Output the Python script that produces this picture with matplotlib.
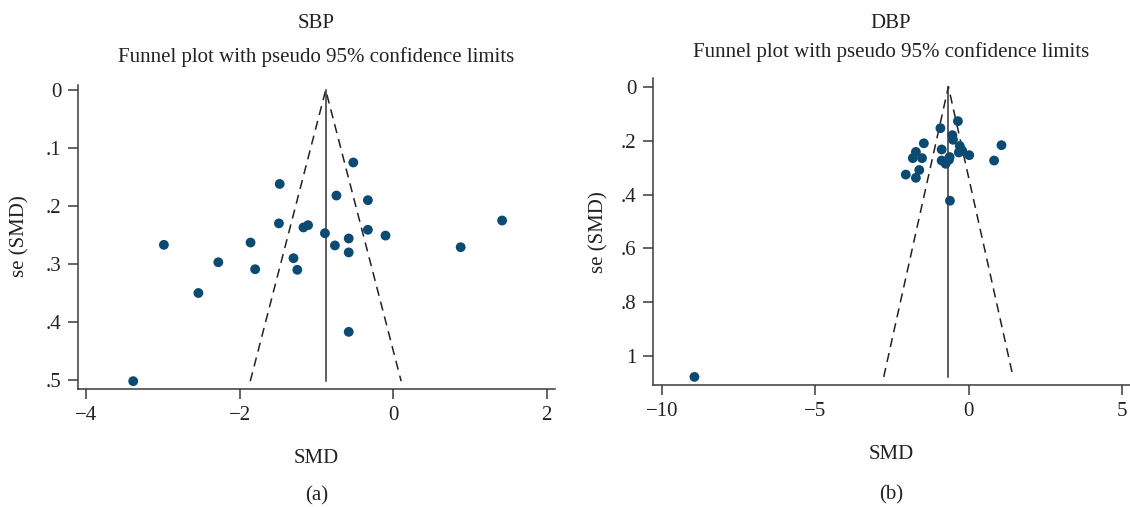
import numpy as np
import matplotlib
matplotlib.use("Agg")
import matplotlib.pyplot as plt

plt.rcParams['font.family'] = ['Liberation Serif', 'DejaVu Serif']

# SBP study effects (SMD) and standard errors
sbp_smd = [-0.52, -1.48, -0.74, -0.33, 1.42, -1.49, -1.17, -1.11, -0.33, -0.89,
           -0.10, -0.58, -1.86, -2.99, -0.76, 0.88, -0.58, -1.30, -2.28, -1.80,
           -1.25, -2.54, -0.58, -3.39]
sbp_se = [0.125, 0.162, 0.182, 0.190, 0.225, 0.230, 0.237, 0.233, 0.241, 0.247,
          0.251, 0.256, 0.263, 0.267, 0.268, 0.271, 0.280, 0.290, 0.297, 0.309,
          0.310, 0.350, 0.417, 0.502]
sbp_pooled = -0.88

# DBP study effects (SMD) and standard errors
dbp_smd = [-0.35, -0.92, -0.53, -0.51, -1.46, 1.07, -0.29, -0.88, -1.72, -0.21,
           -0.32, 0.02, -1.82, -1.52, -0.62, -0.88, -0.75, -0.64, 0.83, -1.61,
           -2.05, -1.72, -0.61, -8.94]
dbp_se = [0.128, 0.154, 0.180, 0.197, 0.210, 0.217, 0.220, 0.233, 0.242, 0.237,
          0.244, 0.254, 0.265, 0.265, 0.261, 0.274, 0.286, 0.271, 0.274, 0.309,
          0.326, 0.338, 0.423, 1.076]
dbp_pooled = -0.66

W, H = 1130, 507
fig = plt.figure(figsize=(W / 100, H / 100), dpi=100)

dot = '#0b4a73'
spine_c = '#3a3a3a'


def funnel(ax, smd, se, pooled, xlim, ylim, xticks, yticks, yticklabels):
    smax = max(se)
    ax.plot([pooled - 1.96 * smax, pooled, pooled + 1.96 * smax], [smax, 0, smax],
            color='#222222', lw=1.1, ls=(0, (6, 4)))
    ax.plot([pooled, pooled], [0, smax], color='#333333', lw=1.1)
    ax.scatter(smd, se, s=50, color=dot, edgecolors='none', zorder=3)
    ax.set_xlim(*xlim)
    ax.set_ylim(*ylim)
    ax.set_xticks(xticks)
    ax.set_xticklabels([str(t).replace('-', '\u2212') for t in xticks])
    ax.set_yticks(yticks)
    ax.set_yticklabels(yticklabels)
    for side in ['top', 'right']:
        ax.spines[side].set_visible(False)
    for side in ['left', 'bottom']:
        ax.spines[side].set_color(spine_c)
        ax.spines[side].set_linewidth(1.1)
    ax.tick_params(direction='out', length=7, width=1.1, color=spine_c,
                   labelsize=15, labelcolor='#222222', pad=5)
    ax.set_facecolor('none')


def axes_px(x0, x1, y0, y1):
    return fig.add_axes([x0 / W, 1 - y1 / H, (x1 - x0) / W, (y1 - y0) / H])


ax1 = axes_px(78, 555, 85, 389)
funnel(ax1, sbp_smd, sbp_se, sbp_pooled, (-4.11, 2.11), (0.5155, -0.0086),
       [-4, -2, 0, 2], [0, 0.1, 0.2, 0.3, 0.4, 0.5], ['0', '.1', '.2', '.3', '.4', '.5'])

ax2 = axes_px(653, 1130, 78, 385)
funnel(ax2, dbp_smd, dbp_se, dbp_pooled, (-10.29, 5.26), (1.106, -0.032),
       [-10, -5, 0, 5], [0, 0.2, 0.4, 0.6, 0.8, 1.0], ['0', '.2', '.4', '.6', '.8', '1'])

tc = '#222222'


def ftext(x, y, s, **kw):
    fig.text(x / W, 1 - y / H, s, ha='center', va='baseline', color=tc, **kw)


ftext(316.5, 28, 'SBP', fontsize=15)
ftext(316.5, 62, 'Funnel plot with pseudo 95% confidence limits', fontsize=15)
ftext(316.5, 463, 'SMD', fontsize=15)
ftext(316.5, 500, '(a)', fontsize=15)
fig.text(20 / W, 1 - 236 / H, 'se (SMD)', rotation=90, ha='center', va='center',
         color=tc, fontsize=15)

ftext(891, 28, 'DBP', fontsize=15)
ftext(891, 57, 'Funnel plot with pseudo 95% confidence limits', fontsize=15)
ftext(891, 459, 'SMD', fontsize=15)
ftext(891, 499, '(b)', fontsize=15)
fig.text(599 / W, 1 - 232 / H, 'se (SMD)', rotation=90, ha='center', va='center',
         color=tc, fontsize=15)

fig.savefig('out.png', dpi=100, facecolor='white')
